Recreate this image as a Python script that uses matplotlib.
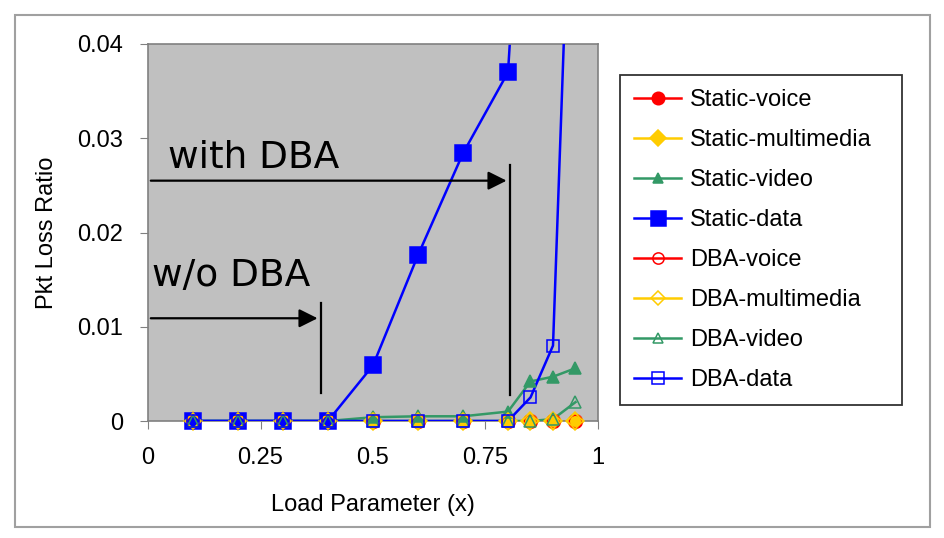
import matplotlib
matplotlib.use("Agg")
import matplotlib.pyplot as plt
import numpy as np
from matplotlib.patches import Rectangle
from matplotlib.lines import Line2D

load = [0.1, 0.2, 0.3, 0.4, 0.5, 0.6, 0.7, 0.8, 0.85, 0.9, 0.95]
static_voice = [0, 0, 0, 0, 0, 0, 0, 0, 0, 0, 0]
static_mm = [0, 0, 0, 0, 0, 0, 0, 0, 0, 0, 0]
static_video = [0, 0, 0, 0, 0.0004, 0.0005, 0.0005, 0.001, 0.0042, 0.0047, 0.0056]
static_data = [0, 0, 0, 0, 0.0059, 0.0176, 0.0284, 0.0370, 0.075, 0.12, 0.16]
dba_voice = [0, 0, 0, 0, 0, 0, 0, 0, 0, 0, 0]
dba_mm = [0, 0, 0, 0, 0, 0, 0, 0, 0, 0, 0]
dba_video = [0, 0, 0, 0, 0, 0, 0, 0, 0, 0.0002, 0.002]
dba_data = [0, 0, 0, 0, 0, 0, 0, 0, 0.0025, 0.008, 0.075]

YMAX = 0.04
plt.rcParams['font.family'] = ['Liberation Sans', 'DejaVu Sans']
fig = plt.figure(figsize=(9.45, 5.38), dpi=100)
fig.patches.append(Rectangle((15/945, 1-527/538), 915/945, 512/538, transform=fig.transFigure,
                             fill=False, edgecolor='#a0a0a0', lw=1.5))
ax = fig.add_axes([148/945, 1-421/538, 450/945, 377/538])
ax.set_facecolor('#C0C0C0')

RED = '#FF0000'; GOLD = '#FFCC00'; GREEN = '#339966'; BLUE = '#0000FF'
series = [
    ('Static-voice', static_voice, RED, 'o', 10, True),
    ('Static-multimedia', static_mm, GOLD, 'D', 9, True),
    ('Static-video', static_video, GREEN, '^', 8, True),
    ('Static-data', static_data, BLUE, 's', 12, True),
    ('DBA-voice', dba_voice, RED, 'o', 9, False),
    ('DBA-multimedia', dba_mm, GOLD, 'D', 8, False),
    ('DBA-video', dba_video, GREEN, '^', 8, False),
    ('DBA-data', dba_data, BLUE, 's', 9, False),
]
handles = []
for i, (name, vals, c, m, ms, filled) in enumerate(series):
    x = np.array(load)
    y = np.array(vals, dtype=float)
    ax.plot(x, y, color=c, lw=1.8, zorder=2 + i * 0.1)
    keep = y <= YMAX
    ax.plot(x[keep], y[keep], ls='none', marker=m, markersize=ms,
            markerfacecolor=c if filled else 'none', markeredgecolor=c,
            markeredgewidth=1.1, clip_on=False, zorder=3 + i * 0.1)
    handles.append(Line2D([], [], color=c, lw=1.8, marker=m, markersize=ms * 0.9,
                          markerfacecolor=c if filled else 'none', markeredgecolor=c,
                          markeredgewidth=1.1, label=name))

ax.set_xlim(0, 1)
ax.set_ylim(0, YMAX)
ax.set_xticks([0, 0.25, 0.5, 0.75, 1])
ax.set_xticklabels(['0', '0.25', '0.5', '0.75', '1'])
ax.set_yticks([0, 0.01, 0.02, 0.03, 0.04])
ax.set_yticklabels(['0', '0.01', '0.02', '0.03', '0.04'])
ax.tick_params(axis='both', labelsize=17, color='#808080', length=6)
ax.tick_params(axis='x', pad=13)
ax.tick_params(axis='y', pad=12)
for s in ax.spines.values():
    s.set_color('#808080')
    s.set_linewidth(1.2)
ax.set_xlabel('Load Parameter (x)', fontsize=17, labelpad=18)
ax.set_ylabel('Pkt Loss Ratio', fontsize=17, labelpad=14)

# annotations
ax.annotate('', xy=(0.803, 0.0255), xytext=(0, 0.0255),
            arrowprops=dict(arrowstyle='-|>', color='black', lw=1.6, mutation_scale=28))
ax.plot([0.805, 0.805], [0.0028, 0.0272], color='black', lw=1.6)
ax.annotate('', xy=(0.383, 0.0109), xytext=(0, 0.0109),
            arrowprops=dict(arrowstyle='-|>', color='black', lw=1.6, mutation_scale=28))
ax.plot([0.385, 0.385], [0.003, 0.0125], color='black', lw=1.6)
ax.text(0.045, 0.0279, 'with DBA', fontsize=27, family=['DejaVu Sans'], va='center')
ax.text(0.01, 0.0154, 'w/o DBA', fontsize=27, family=['DejaVu Sans'], va='center')

leg = fig.legend(handles=handles, loc='upper left',
                 bbox_to_anchor=(620/945, 1-75/538, 282/945, 0),
                 mode='expand', frameon=True, fancybox=False, edgecolor='black', fontsize=17,
                 handlelength=2.0, labelspacing=0.76, borderpad=0.6, handletextpad=0.35,
                 borderaxespad=0)
leg.get_frame().set_linewidth(1.3)

fig.savefig('out.png', dpi=100)
